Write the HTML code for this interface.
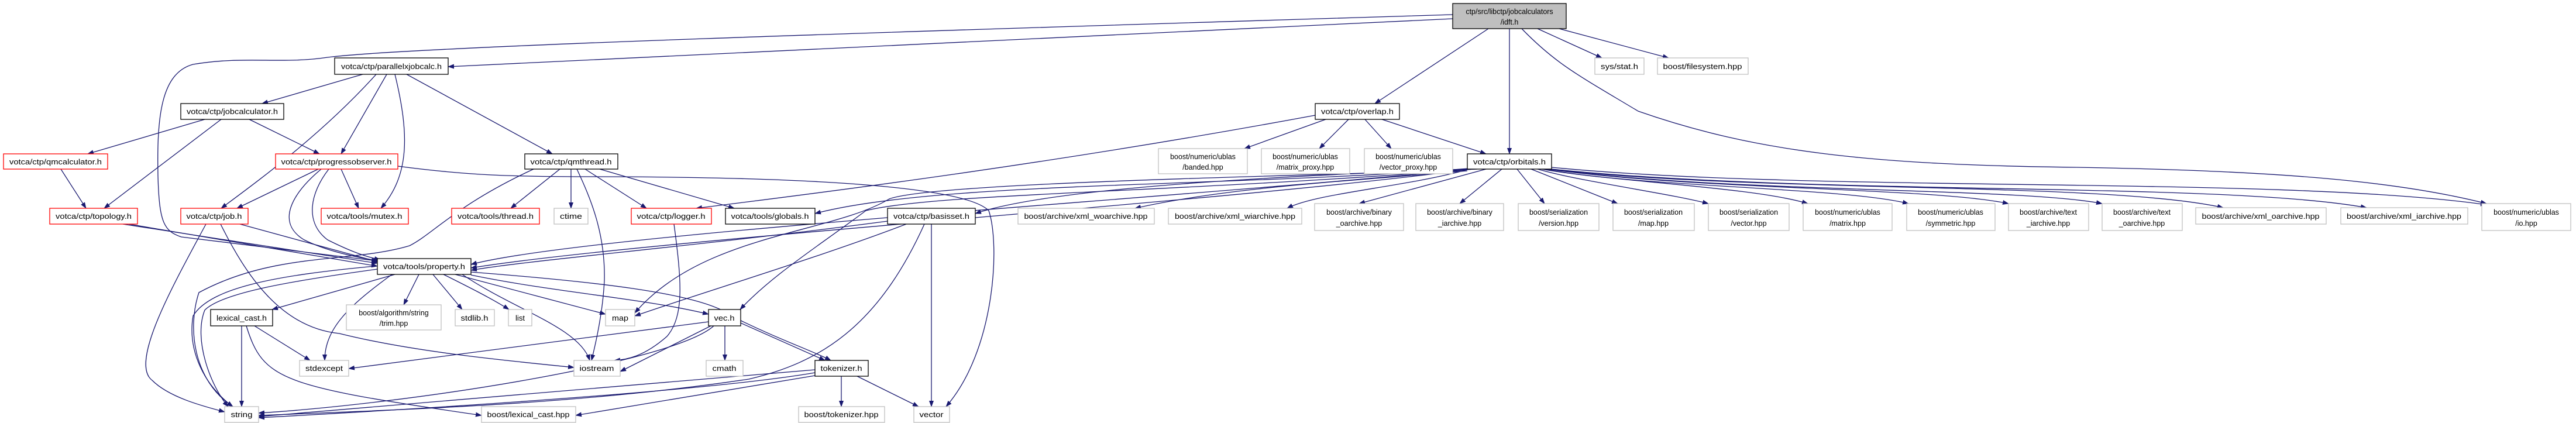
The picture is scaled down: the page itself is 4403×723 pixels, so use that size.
<!DOCTYPE html>
<html><head><meta charset="utf-8"><style>
html,body{margin:0;padding:0;background:#fff;}
svg{display:block;}
text{font-family:"Liberation Sans",sans-serif;font-size:12.5px;fill:#000;}
.e{fill:none;stroke:#191970;stroke-width:1.3;marker-end:url(#a);}
.nb{fill:#fff;stroke:#000;stroke-width:1.3;}
.nr{fill:#fff;stroke:#ff0000;stroke-width:1.3;}
.ng{fill:#fff;stroke:#bfbfbf;stroke-width:1.3;}
</style></head><body>
<svg width="4403" height="723" viewBox="0 0 4403 723" xmlns="http://www.w3.org/2000/svg">
<defs><marker id="a" markerUnits="userSpaceOnUse" markerWidth="11" markerHeight="8" refX="10" refY="4" orient="auto"><path d="M0,0 L11,4 L0,8 z" fill="#191970"/></marker></defs>

<!-- edges -->
<path class="e" d="M2483,25 C1500,55 700,80 560,98 C480,110 420,95 330,110 C275,125 268,200 270,300 C272,380 280,395 310,405 L645,446"/>
<path class="e" d="M2483,32 L766,114"/>
<path class="e" d="M2544,49 L2350,177"/>
<path class="e" d="M2580,49 L2580,263"/>
<path class="e" d="M2628,49 L2738,99"/>
<path class="e" d="M2665,49 L2852,99"/>
<path class="e" d="M2601,49 C2660,110 2700,130 2800,190 C3000,260 3200,282 3550,286 C3900,292 4100,310 4250,348"/>
<path class="e" d="M620,127 L448,177"/>
<path class="e" d="M643,127 C550,230 440,310 378,356"/>
<path class="e" d="M661,127 L583,263"/>
<path class="e" d="M675,127 C700,230 700,300 651,356"/>
<path class="e" d="M695,127 L944,263"/>
<path class="e" d="M350,204 L150,263"/>
<path class="e" d="M378,204 L178,356"/>
<path class="e" d="M426,204 L546,263"/>
<path class="e" d="M104,289 L147,356"/>
<path class="e" d="M544,289 L405,356"/>
<path class="e" d="M583,289 L613,356"/>
<path class="e" d="M549,289 C500,330 470,380 520,410 C560,430 610,440 648,446"/>
<path class="e" d="M562,289 C530,330 520,380 560,410 C590,425 620,438 650,444"/>
<path class="e" d="M680,284 C800,300 880,302 1000,302 C1400,302 1650,320 1690,360 C1710,420 1700,600 1617,695"/>
<path class="e" d="M912,289 C780,350 740,400 700,420 C600,450 470,430 340,500 C320,560 330,650 398,695"/>
<path class="e" d="M957,289 L873,356"/>
<path class="e" d="M976,289 L976,356"/>
<path class="e" d="M1000,289 L1105,356"/>
<path class="e" d="M986,289 C1010,340 1035,400 1033,480 C1030,540 1015,600 1011,616"/>
<path class="e" d="M1025,289 L1255,356"/>
<path class="e" d="M210,383 L645,450"/>
<path class="e" d="M220,383 L645,455"/>
<path class="e" d="M352,383 C300,480 220,620 260,650 C290,680 350,695 384,704"/>
<path class="e" d="M377,383 C420,470 480,560 580,570 C700,600 850,615 981,628"/>
<path class="e" d="M410,383 L648,448"/>
<path class="e" d="M1152,383 C1165,480 1170,540 1140,575 C1100,610 1070,615 1050,616"/>
<path class="e" d="M2248,197 C1800,280 1400,330 1190,356"/>
<path class="e" d="M2266,204 L2127,254"/>
<path class="e" d="M2305,204 L2255,254"/>
<path class="e" d="M2333,204 L2378,254"/>
<path class="e" d="M2362,204 L2540,263"/>
<!-- orbitals children -->
<path class="e" d="M2540,289 L2323,348"/>
<path class="e" d="M2567,289 L2495,348"/>
<path class="e" d="M2593,289 L2640,348"/>
<path class="e" d="M2617,289 L2765,348"/>
<path class="e" d="M2628,289 C2700,310 2850,330 2920,348"/>
<path class="e" d="M2635,289 C2750,310 3000,320 3090,348"/>
<path class="e" d="M2640,289 C2800,320 3150,320 3262,348"/>
<path class="e" d="M2645,289 C2900,325 3300,320 3433,348"/>
<path class="e" d="M2648,289 C2950,330 3450,320 3593,348"/>
<path class="e" d="M2650,289 C3000,330 3600,310 3800,355"/>
<path class="e" d="M2652,289 C3100,335 3800,310 4045,355"/>
<path class="e" d="M2652,286 C3100,330 3900,300 4250,350"/>
<path class="e" d="M2508,292 C2300,310 2100,320 1940,356"/>
<path class="e" d="M2508,290 C2400,320 2250,330 2200,356"/>
<path class="e" d="M2510,289 C2200,300 1800,320 1667,365"/>
<path class="e" d="M2510,288 C2100,320 1600,310 1393,365"/>
<path class="e" d="M2512,289 C2000,340 1000,400 805,452"/>
<path class="e" d="M2515,289 C2100,345 1100,410 805,458"/>
<path class="e" d="M2520,289 C2000,330 1600,330 1480,360 C1400,420 1320,470 1265,529"/>
<path class="e" d="M2525,289 C2300,300 1600,310 1520,340 C1420,400 1200,400 1085,535"/>
<!-- basisset -->
<path class="e" d="M1517,378 C1200,420 900,445 805,462"/>
<path class="e" d="M1549,383 C1400,440 1200,500 1085,540"/>
<path class="e" d="M1580,383 C1500,560 1400,620 1280,648 C1000,690 700,700 442,710"/>
<path class="e" d="M1592,383 L1592,695"/>
<!-- property children -->
<path class="e" d="M675,469 L465,529"/>
<path class="e" d="M716,469 L690,521"/>
<path class="e" d="M740,469 L790,529"/>
<path class="e" d="M758,469 C800,490 840,510 870,529"/>
<path class="e" d="M778,469 L1035,537"/>
<path class="e" d="M790,469 C880,530 990,560 1008,616"/>
<path class="e" d="M670,469 C600,520 555,560 555,616"/>
<path class="e" d="M645,460 C500,480 380,500 350,530 C330,580 360,660 390,695"/>
<path class="e" d="M640,455 C480,470 360,490 330,540 C320,600 350,660 398,695"/>
<path class="e" d="M805,470 C950,500 1100,510 1211,537"/>
<path class="e" d="M805,465 C1000,480 1200,500 1250,540 C1330,580 1390,600 1420,616"/>
<!-- lexical_cast.h -->
<path class="e" d="M413,557 L413,695"/>
<path class="e" d="M435,557 L530,616"/>
<path class="e" d="M421,557 C450,650 480,660 823,710"/>
<!-- vec.h -->
<path class="e" d="M1239,557 L1239,616"/>
<path class="e" d="M1266,552 L1410,616"/>
<path class="e" d="M1211,550 L596,630"/>
<path class="e" d="M1220,557 C1150,620 700,690 442,706"/>
<path class="e" d="M1215,557 L1060,635"/>
<!-- tokenizer.h -->
<path class="e" d="M1393,632 L442,712"/>
<path class="e" d="M1393,637 C1200,670 700,700 442,714"/>
<path class="e" d="M1438,643 L1438,695"/>
<path class="e" d="M1465,643 L1570,695"/>
<path class="e" d="M1393,642 L984,710"/>

<!-- nodes -->
<rect x="2483" y="6" width="194" height="43" fill="#bfbfbf" stroke="#000" stroke-width="1.3"/>
<text x="2580" y="24" text-anchor="middle">ctp/src/libctp/jobcalculators</text>
<text x="2580" y="42" text-anchor="middle">/idft.h</text>

<rect class="nb" x="572" y="99" width="194" height="28"/><text x="669" y="118" text-anchor="middle" textLength="172" lengthAdjust="spacingAndGlyphs">votca/ctp/parallelxjobcalc.h</text>
<rect class="ng" x="2726" y="99" width="84" height="28"/><text x="2768" y="118" text-anchor="middle" textLength="64" lengthAdjust="spacingAndGlyphs">sys/stat.h</text>
<rect class="ng" x="2833" y="99" width="155" height="28"/><text x="2910" y="118" text-anchor="middle" textLength="135" lengthAdjust="spacingAndGlyphs">boost/filesystem.hpp</text>
<rect class="nb" x="309" y="177" width="176" height="27"/><text x="397" y="195" text-anchor="middle" textLength="156" lengthAdjust="spacingAndGlyphs">votca/ctp/jobcalculator.h</text>
<rect class="nb" x="2248" y="177" width="144" height="27"/><text x="2320" y="195" text-anchor="middle" textLength="124" lengthAdjust="spacingAndGlyphs">votca/ctp/overlap.h</text>
<rect class="nr" x="6" y="263" width="178" height="26"/><text x="95" y="281" text-anchor="middle" textLength="158" lengthAdjust="spacingAndGlyphs">votca/ctp/qmcalculator.h</text>
<rect class="nr" x="471" y="263" width="209" height="26"/><text x="575" y="281" text-anchor="middle" textLength="189" lengthAdjust="spacingAndGlyphs">votca/ctp/progressobserver.h</text>
<rect class="nb" x="897" y="263" width="159" height="26"/><text x="976" y="281" text-anchor="middle" textLength="139" lengthAdjust="spacingAndGlyphs">votca/ctp/qmthread.h</text>
<rect class="nb" x="2508" y="263" width="144" height="26"/><text x="2580" y="281" text-anchor="middle" textLength="124" lengthAdjust="spacingAndGlyphs">votca/ctp/orbitals.h</text>

<rect class="ng" x="1980" y="254" width="152" height="43"/><text x="2056" y="272" text-anchor="middle">boost/numeric/ublas</text><text x="2056" y="290" text-anchor="middle">/banded.hpp</text>
<rect class="ng" x="2156" y="254" width="151" height="43"/><text x="2231" y="272" text-anchor="middle">boost/numeric/ublas</text><text x="2231" y="290" text-anchor="middle">/matrix_proxy.hpp</text>
<rect class="ng" x="2332" y="254" width="151" height="43"/><text x="2407" y="272" text-anchor="middle">boost/numeric/ublas</text><text x="2407" y="290" text-anchor="middle">/vector_proxy.hpp</text>

<rect class="nr" x="85" y="356" width="150" height="27"/><text x="160" y="374" text-anchor="middle" textLength="130" lengthAdjust="spacingAndGlyphs">votca/ctp/topology.h</text>
<rect class="nr" x="309" y="356" width="115" height="27"/><text x="366" y="374" text-anchor="middle" textLength="95" lengthAdjust="spacingAndGlyphs">votca/ctp/job.h</text>
<rect class="nr" x="549" y="356" width="149" height="27"/><text x="623" y="374" text-anchor="middle" textLength="129" lengthAdjust="spacingAndGlyphs">votca/tools/mutex.h</text>
<rect class="nr" x="772" y="356" width="150" height="27"/><text x="847" y="374" text-anchor="middle" textLength="130" lengthAdjust="spacingAndGlyphs">votca/tools/thread.h</text>
<rect class="ng" x="947" y="356" width="58" height="27"/><text x="976" y="374" text-anchor="middle" textLength="38" lengthAdjust="spacingAndGlyphs">ctime</text>
<rect class="nr" x="1079" y="356" width="137" height="27"/><text x="1147" y="374" text-anchor="middle" textLength="117" lengthAdjust="spacingAndGlyphs">votca/ctp/logger.h</text>
<rect class="nb" x="1240" y="356" width="153" height="27"/><text x="1316" y="374" text-anchor="middle" textLength="133" lengthAdjust="spacingAndGlyphs">votca/tools/globals.h</text>
<rect class="nb" x="1517" y="356" width="150" height="27"/><text x="1592" y="374" text-anchor="middle" textLength="130" lengthAdjust="spacingAndGlyphs">votca/ctp/basisset.h</text>
<rect class="ng" x="1740" y="356" width="233" height="27"/><text x="1856" y="374" text-anchor="middle" textLength="211" lengthAdjust="spacingAndGlyphs">boost/archive/xml_woarchive.hpp</text>
<rect class="ng" x="1997" y="356" width="228" height="27"/><text x="2111" y="374" text-anchor="middle" textLength="206" lengthAdjust="spacingAndGlyphs">boost/archive/xml_wiarchive.hpp</text>

<rect class="ng" x="2247" y="348" width="152" height="46"/><text x="2323" y="367" text-anchor="middle">boost/archive/binary</text><text x="2323" y="386" text-anchor="middle">_oarchive.hpp</text>
<rect class="ng" x="2420" y="348" width="150" height="46"/><text x="2495" y="367" text-anchor="middle">boost/archive/binary</text><text x="2495" y="386" text-anchor="middle">_iarchive.hpp</text>
<rect class="ng" x="2595" y="348" width="138" height="46"/><text x="2664" y="367" text-anchor="middle">boost/serialization</text><text x="2664" y="386" text-anchor="middle">/version.hpp</text>
<rect class="ng" x="2757" y="348" width="139" height="46"/><text x="2826" y="367" text-anchor="middle">boost/serialization</text><text x="2826" y="386" text-anchor="middle">/map.hpp</text>
<rect class="ng" x="2920" y="348" width="138" height="46"/><text x="2989" y="367" text-anchor="middle">boost/serialization</text><text x="2989" y="386" text-anchor="middle">/vector.hpp</text>
<rect class="ng" x="3082" y="348" width="152" height="46"/><text x="3158" y="367" text-anchor="middle">boost/numeric/ublas</text><text x="3158" y="386" text-anchor="middle">/matrix.hpp</text>
<rect class="ng" x="3259" y="348" width="151" height="46"/><text x="3334" y="367" text-anchor="middle">boost/numeric/ublas</text><text x="3334" y="386" text-anchor="middle">/symmetric.hpp</text>
<rect class="ng" x="3433" y="348" width="137" height="46"/><text x="3501" y="367" text-anchor="middle">boost/archive/text</text><text x="3501" y="386" text-anchor="middle">_iarchive.hpp</text>
<rect class="ng" x="3593" y="348" width="137" height="46"/><text x="3661" y="367" text-anchor="middle">boost/archive/text</text><text x="3661" y="386" text-anchor="middle">_oarchive.hpp</text>
<rect class="ng" x="3753" y="355" width="223" height="28"/><text x="3864" y="374" text-anchor="middle" textLength="201" lengthAdjust="spacingAndGlyphs">boost/archive/xml_oarchive.hpp</text>
<rect class="ng" x="4001" y="355" width="217" height="28"/><text x="4109" y="374" text-anchor="middle" textLength="196" lengthAdjust="spacingAndGlyphs">boost/archive/xml_iarchive.hpp</text>
<rect class="ng" x="4242" y="348" width="152" height="46"/><text x="4318" y="367" text-anchor="middle">boost/numeric/ublas</text><text x="4318" y="386" text-anchor="middle">/io.hpp</text>

<rect class="nb" x="645" y="442" width="160" height="27"/><text x="725" y="460" text-anchor="middle" textLength="140" lengthAdjust="spacingAndGlyphs">votca/tools/property.h</text>
<rect class="nb" x="360" y="529" width="106" height="28"/><text x="413" y="548" text-anchor="middle" textLength="86" lengthAdjust="spacingAndGlyphs">lexical_cast.h</text>
<rect class="ng" x="592" y="521" width="162" height="43"/><text x="673" y="539" text-anchor="middle">boost/algorithm/string</text><text x="673" y="557" text-anchor="middle">/trim.hpp</text>
<rect class="ng" x="778" y="529" width="67" height="28"/><text x="811" y="548" text-anchor="middle" textLength="47" lengthAdjust="spacingAndGlyphs">stdlib.h</text>
<rect class="ng" x="869" y="529" width="40" height="28"/><text x="889" y="548" text-anchor="middle" textLength="16" lengthAdjust="spacingAndGlyphs">list</text>
<rect class="ng" x="1035" y="529" width="50" height="28"/><text x="1060" y="548" text-anchor="middle" textLength="28" lengthAdjust="spacingAndGlyphs">map</text>
<rect class="nb" x="1211" y="529" width="55" height="28"/><text x="1238" y="548" text-anchor="middle" textLength="35" lengthAdjust="spacingAndGlyphs">vec.h</text>
<rect class="ng" x="512" y="616" width="84" height="27"/><text x="554" y="634" text-anchor="middle" textLength="64" lengthAdjust="spacingAndGlyphs">stdexcept</text>
<rect class="ng" x="981" y="616" width="79" height="27"/><text x="1020" y="634" text-anchor="middle" textLength="59" lengthAdjust="spacingAndGlyphs">iostream</text>
<rect class="ng" x="1207" y="616" width="63" height="27"/><text x="1238" y="634" text-anchor="middle" textLength="41" lengthAdjust="spacingAndGlyphs">cmath</text>
<rect class="nb" x="1393" y="616" width="91" height="27"/><text x="1438" y="634" text-anchor="middle" textLength="71" lengthAdjust="spacingAndGlyphs">tokenizer.h</text>
<rect class="ng" x="384" y="695" width="58" height="27"/><text x="413" y="713" text-anchor="middle" textLength="37" lengthAdjust="spacingAndGlyphs">string</text>
<rect class="ng" x="823" y="695" width="161" height="27"/><text x="903" y="713" text-anchor="middle" textLength="141" lengthAdjust="spacingAndGlyphs">boost/lexical_cast.hpp</text>
<rect class="ng" x="1365" y="695" width="147" height="27"/><text x="1438" y="713" text-anchor="middle" textLength="127" lengthAdjust="spacingAndGlyphs">boost/tokenizer.hpp</text>
<rect class="ng" x="1562" y="695" width="61" height="27"/><text x="1592" y="713" text-anchor="middle" textLength="41" lengthAdjust="spacingAndGlyphs">vector</text>
</svg>
</body></html>
